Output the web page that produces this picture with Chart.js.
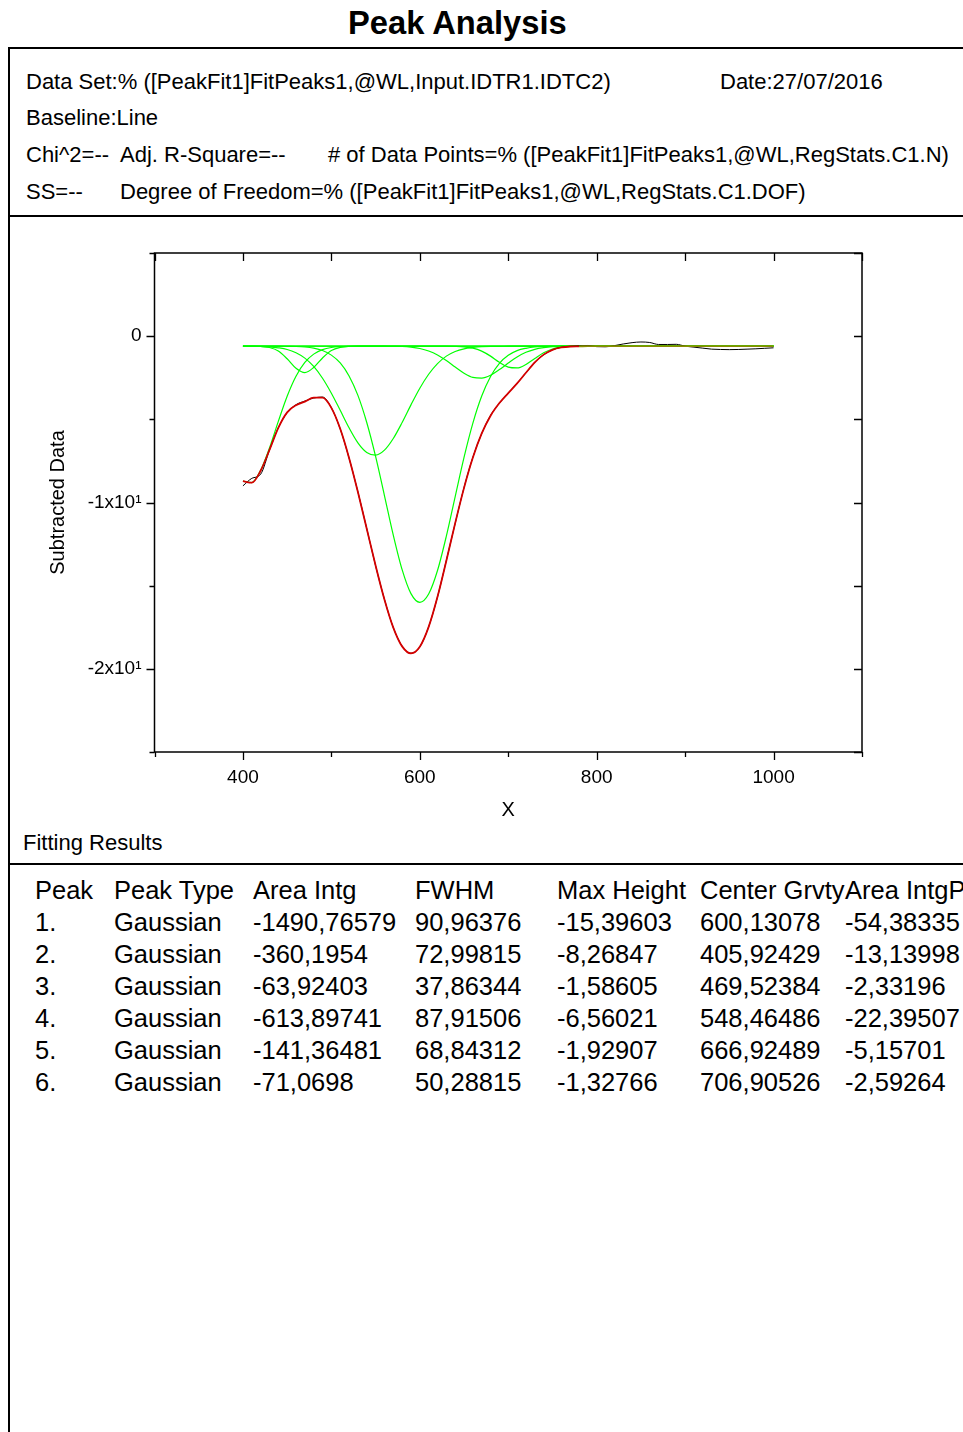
<!DOCTYPE html>
<html>
<head>
<meta charset="utf-8">
<script src="https://cdn.jsdelivr.net/npm/chart.js@4.4.1/dist/chart.umd.min.js"></script>
<style>
  html, body { margin: 0; padding: 0; background: #fff; }
  body { width: 963px; height: 1432px; position: relative; overflow: hidden;
         font-family: "Liberation Sans", Arial, Helvetica, sans-serif; color: #000; }
  #chart { position: absolute; left: 0; top: 0; }
  .t { position: absolute; white-space: nowrap; line-height: 1; }
  .hdr { font-size: 22px; }
  .tbl { font-size: 25.5px; }
  .ln { position: absolute; background: #000; }
</style>
</head>
<body>
<div class="t" id="title" style="left:348px; top:7px; font-size:32.7px; font-weight:bold;">Peak Analysis</div>

<div class="ln" style="left:8px; top:47px; width:955px; height:2px;"></div>
<div class="ln" style="left:8px; top:47px; width:2px; height:1385px;"></div>
<div class="ln" style="left:8px; top:215px; width:955px; height:2px;"></div>
<div class="ln" style="left:8px; top:863px; width:955px; height:2px;"></div>

<div id="header"></div>
<div class="t hdr" style="left:23px; top:832px;">Fitting Results</div>
<div id="table"></div>

<canvas id="chart" width="963" height="830"></canvas>

<script>
// ---------------- data ----------------
const xValues = [400,410,420,430,440,450,460,470,480,490,500,510,520,530,540,550,560,570,580,590,600,
  610,620,630,640,650,660,670,680,690,700,710,720,730,740,750,760,770,780,790,800,
  810,820,830,840,850,860,870,880,890,900,910,920,930,940,950,960,970,980,990,1000];

// measured data (black)
const dataY = [-9.00,-8.55,-8.30,-6.85,-5.50,-4.60,-4.12,-3.90,-3.72,-3.66,-4.30,
  -5.58,-7.33,-9.36,-11.57,-13.80,-15.82,-17.52,-18.64,-19.06,-18.68,
  -17.47,-15.68,-13.48,-11.25,-9.10,-7.28,-5.86,-4.76,-4.03,-3.42,
  -2.83,-2.21,-1.57,-1.12,-0.82,-0.67,-0.61,-0.58,-0.56,-0.63,
  -0.64,-0.57,-0.47,-0.39,-0.35,-0.38,-0.50,-0.50,-0.49,-0.60,
  -0.66,-0.72,-0.78,-0.80,-0.81,-0.80,-0.78,-0.76,-0.73,-0.70];

// cumulative fit (red)
const fitY = [-8.72,-8.81,-8.09,-6.84,-5.51,-4.58,-4.15,-3.94,-3.70,-3.70,-4.31,
  -5.57,-7.32,-9.37,-11.58,-13.79,-15.83,-17.52,-18.65,-19.07,-18.67,
  -17.48,-15.67,-13.50,-11.24,-9.12,-7.30,-5.85,-4.78,-4.02,-3.42,
  -2.84,-2.20,-1.58,-1.11,-0.82,-0.68,-0.62,-0.61,-0.60,-0.60,
  -0.60,-0.60,-0.60,-0.60,-0.60,-0.60,-0.60,-0.60,-0.60,-0.60,
  -0.60,-0.60,-0.60,-0.60,-0.60,-0.60,-0.60,-0.60,-0.60,-0.60];

// individual peaks (green)
const peak1Y = [-0.60,-0.60,-0.60,-0.60,-0.60,-0.61,-0.62,-0.65,-0.72,-0.86,-1.14,
  -1.61,-2.39,-3.56,-5.19,-7.23,-9.58,-11.96,-14.04,-15.48,-16.00,
  -15.50,-14.09,-12.02,-9.64,-7.29,-5.23,-3.60,-2.42,-1.63,-1.15,
  -0.87,-0.73,-0.65,-0.62,-0.61,-0.60,-0.60,-0.60,-0.60,-0.60,
  -0.60,-0.60,-0.60,-0.60,-0.60,-0.60,-0.60,-0.60,-0.60,-0.60,
  -0.60,-0.60,-0.60,-0.60,-0.60,-0.60,-0.60,-0.60,-0.60,-0.60];
const peak2Y = [-8.72,-8.80,-8.06,-6.72,-5.12,-3.61,-2.41,-1.58,-1.08,-0.81,-0.68,
  -0.63,-0.61,-0.60,-0.60,-0.60,-0.60,-0.60,-0.60,-0.60,-0.60,
  -0.60,-0.60,-0.60,-0.60,-0.60,-0.60,-0.60,-0.60,-0.60,-0.60,
  -0.60,-0.60,-0.60,-0.60,-0.60,-0.60,-0.60,-0.60,-0.60,-0.60,
  -0.60,-0.60,-0.60,-0.60,-0.60,-0.60,-0.60,-0.60,-0.60,-0.60,
  -0.60,-0.60,-0.60,-0.60,-0.60,-0.60,-0.60,-0.60,-0.60,-0.60];
const peak3Y = [-0.60,-0.60,-0.61,-0.68,-0.89,-1.36,-1.93,-2.19,-1.88,-1.31,-0.86,
  -0.67,-0.61,-0.60,-0.60,-0.60,-0.60,-0.60,-0.60,-0.60,-0.60,
  -0.60,-0.60,-0.60,-0.60,-0.60,-0.60,-0.60,-0.60,-0.60,-0.60,
  -0.60,-0.60,-0.60,-0.60,-0.60,-0.60,-0.60,-0.60,-0.60,-0.60,
  -0.60,-0.60,-0.60,-0.60,-0.60,-0.60,-0.60,-0.60,-0.60,-0.60,
  -0.60,-0.60,-0.60,-0.60,-0.60,-0.60,-0.60,-0.60,-0.60,-0.60];
const peak4Y = [-0.60,-0.61,-0.62,-0.64,-0.70,-0.80,-1.00,-1.32,-1.82,-2.53,-3.43,
  -4.46,-5.51,-6.41,-6.99,-7.15,-6.85,-6.15,-5.19,-4.13,-3.13,
  -2.29,-1.65,-1.20,-0.92,-0.76,-0.68,-0.63,-0.61,-0.61,-0.60,
  -0.60,-0.60,-0.60,-0.60,-0.60,-0.60,-0.60,-0.60,-0.60,-0.60,
  -0.60,-0.60,-0.60,-0.60,-0.60,-0.60,-0.60,-0.60,-0.60,-0.60,
  -0.60,-0.60,-0.60,-0.60,-0.60,-0.60,-0.60,-0.60,-0.60,-0.60];
const peak5Y = [-0.60,-0.60,-0.60,-0.60,-0.60,-0.60,-0.60,-0.60,-0.60,-0.60,-0.60,
  -0.60,-0.60,-0.60,-0.60,-0.60,-0.60,-0.61,-0.62,-0.66,-0.74,
  -0.89,-1.13,-1.47,-1.86,-2.23,-2.48,-2.52,-2.35,-2.01,-1.62,
  -1.25,-0.97,-0.79,-0.69,-0.63,-0.61,-0.60,-0.60,-0.60,-0.60,
  -0.60,-0.60,-0.60,-0.60,-0.60,-0.60,-0.60,-0.60,-0.60,-0.60,
  -0.60,-0.60,-0.60,-0.60,-0.60,-0.60,-0.60,-0.60,-0.60,-0.60];
const peak6Y = [-0.60,-0.60,-0.60,-0.60,-0.60,-0.60,-0.60,-0.60,-0.60,-0.60,-0.60,
  -0.60,-0.60,-0.60,-0.60,-0.60,-0.60,-0.60,-0.60,-0.60,-0.60,
  -0.60,-0.60,-0.60,-0.61,-0.64,-0.72,-0.90,-1.20,-1.57,-1.86,
  -1.91,-1.70,-1.34,-1.00,-0.77,-0.66,-0.62,-0.60,-0.60,-0.60,
  -0.60,-0.60,-0.60,-0.60,-0.60,-0.60,-0.60,-0.60,-0.60,-0.60,
  -0.60,-0.60,-0.60,-0.60,-0.60,-0.60,-0.60,-0.60,-0.60,-0.60];

// axes
const xTickValues = [300,400,500,600,700,800,900,1000,1100];
const xTickLabels = ['','400','','600','','800','','1000',''];
const yTickValues = [-25,-20,-15,-10,-5,0,5];
const yTickLabels = ['','-2x10\u00B9','','-1x10\u00B9','','0',''];
const xAxisTitle = 'X';
const yAxisTitle = 'Subtracted Data';

// header texts
const headerLines = [
  { x: 26,  y: 82,  text: 'Data Set:% ([PeakFit1]FitPeaks1,@WL,Input.IDTR1.IDTC2)' },
  { x: 720, y: 82,  text: 'Date:27/07/2016' },
  { x: 26,  y: 118, text: 'Baseline:Line' },
  { x: 26,  y: 155, text: 'Chi^2=--' },
  { x: 120, y: 155, text: 'Adj. R-Square=--' },
  { x: 328, y: 155, text: '# of Data Points=% ([PeakFit1]FitPeaks1,@WL,RegStats.C1.N)' },
  { x: 26,  y: 192, text: 'SS=--' },
  { x: 120, y: 192, text: 'Degree of Freedom=% ([PeakFit1]FitPeaks1,@WL,RegStats.C1.DOF)' }
];

// fitting results table
const tableHeaders = ['Peak','Peak Type','Area Intg','FWHM','Max Height','Center Grvty','Area IntgP'];
const peakIds      = ['1.','2.','3.','4.','5.','6.'];
const peakTypes    = ['Gaussian','Gaussian','Gaussian','Gaussian','Gaussian','Gaussian'];
const areaIntg     = ['-1490,76579','-360,1954','-63,92403','-613,89741','-141,36481','-71,0698'];
const fwhm         = ['90,96376','72,99815','37,86344','87,91506','68,84312','50,28815'];
const maxHeight    = ['-15,39603','-8,26847','-1,58605','-6,56021','-1,92907','-1,32766'];
const centerGrvty  = ['600,13078','405,92429','469,52384','548,46486','666,92489','706,90526'];
const areaIntgP    = ['-54,38335','-13,13998','-2,33196','-22,39507','-5,15701','-2,59264'];

// ---------------- header & table ----------------
const hdr = document.getElementById('header');
headerLines.forEach(h => {
  const d = document.createElement('div');
  d.className = 't hdr';
  d.style.left = h.x + 'px';
  d.style.top = (h.y - 10.7) + 'px';
  d.textContent = h.text;
  hdr.appendChild(d);
});

const colX = [35,114,253,415,557,700,845];
const rowY0 = 890, rowStep = 32;
const tbl = document.getElementById('table');
function cell(txt, x, y) {
  const d = document.createElement('div');
  d.className = 't tbl';
  d.style.left = x + 'px';
  d.style.top = (y - 12.4) + 'px';
  d.textContent = txt;
  tbl.appendChild(d);
}
tableHeaders.forEach((h, i) => cell(h, colX[i], rowY0));
const cols = [peakIds, peakTypes, areaIntg, fwhm, maxHeight, centerGrvty, areaIntgP];
for (let r = 0; r < peakIds.length; r++) {
  cols.forEach((c, i) => cell(c[r], colX[i], rowY0 + rowStep * (r + 1)));
}

// ---------------- chart ----------------
Chart.defaults.font.family = '"Liberation Sans", Arial, Helvetica, sans-serif';
Chart.defaults.color = '#000';

const pts = arr => xValues.map((x, i) => ({ x: x, y: arr[i] }));
const green = '#00ff00';

const frameTicks = {
  id: 'frameTicks',
  afterDatasetsDraw(chart) {
    const { ctx, chartArea: a, scales: { x, y } } = chart;
    ctx.save();
    ctx.strokeStyle = '#000';
    ctx.lineWidth = 1.5;
    ctx.strokeRect(a.left, a.top, a.right - a.left, a.bottom - a.top);
    ctx.lineWidth = 1.3;
    ctx.beginPath();
    xTickValues.forEach((v, i) => {
      const px = Math.round(x.getPixelForValue(v)) + 0.5;
      const L = xTickLabels[i] ? 8 : 5;
      ctx.moveTo(px, a.bottom); ctx.lineTo(px, a.bottom + L);
      ctx.moveTo(px, a.top); ctx.lineTo(px, a.top + 8);
    });
    yTickValues.forEach((v, i) => {
      const py = Math.round(y.getPixelForValue(v)) + 0.5;
      const L = yTickLabels[i] ? 8 : 5;
      ctx.moveTo(a.left - L, py); ctx.lineTo(a.left, py);
      ctx.moveTo(a.right, py); ctx.lineTo(a.right - 8, py);
    });
    ctx.stroke();
    ctx.restore();
  }
};

function greenSet(arr) {
  return { data: pts(arr), borderColor: green, borderWidth: 1.2, pointRadius: 0,
           cubicInterpolationMode: 'monotone', order: 3 };
}

new Chart(document.getElementById('chart'), {
  type: 'line',
  data: {
    datasets: [
      { data: pts(fitY), borderWidth: 1.8, pointRadius: 0, cubicInterpolationMode: 'monotone', order: 1,
        borderColor: '#d40000',
        segment: { borderColor: c => (c.p0.parsed.x >= 780 ? '#8a8a00' : '#d40000') } },
      { data: pts(dataY), borderColor: '#000', borderWidth: 1, pointRadius: 0,
        cubicInterpolationMode: 'monotone', order: 2 },
      greenSet(peak1Y), greenSet(peak2Y), greenSet(peak3Y),
      greenSet(peak4Y), greenSet(peak5Y), greenSet(peak6Y)
    ]
  },
  options: {
    responsive: false,
    animation: false,
    devicePixelRatio: 1,
    layout: { padding: { left: 46, top: 253, right: 101, bottom: 8 } },
    plugins: { legend: { display: false }, tooltip: { enabled: false } },
    scales: {
      x: {
        type: 'linear', min: 300, max: 1100,
        afterBuildTicks: s => { s.ticks = xTickValues.map(v => ({ value: v })); },
        afterFit: s => { s.height = 70; },
        grid: { display: false, drawTicks: false },
        border: { display: false },
        ticks: { autoSkip: false, maxRotation: 0, padding: 14, font: { size: 19 },
                 callback: v => xTickLabels[xTickValues.indexOf(v)] },
        title: { display: true, text: xAxisTitle, font: { size: 20 }, padding: 0 }
      },
      y: {
        type: 'linear', min: -25, max: 5,
        afterBuildTicks: s => { s.ticks = yTickValues.map(v => ({ value: v })); },
        afterFit: s => { s.width = 108.5; },
        grid: { display: false, drawTicks: false },
        border: { display: false },
        ticks: { autoSkip: false, padding: 13, font: { size: 19 },
                 callback: v => yTickLabels[yTickValues.indexOf(v)] },
        title: { display: true, text: yAxisTitle, font: { size: 20 }, padding: 0 }
      }
    }
  },
  plugins: [frameTicks]
});
</script>
</body>
</html>
